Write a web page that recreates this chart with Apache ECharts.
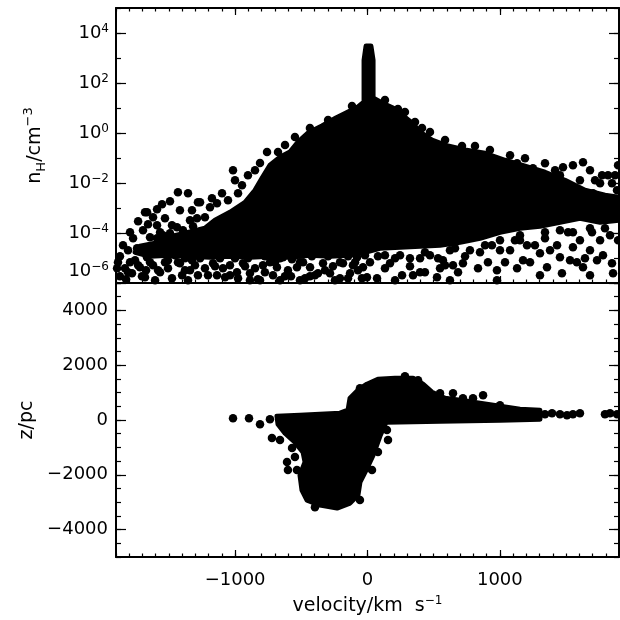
<!DOCTYPE html>
<html><head><meta charset="utf-8">
<script src="https://cdn.jsdelivr.net/npm/echarts@6/dist/echarts.min.js"></script>
<style>html,body{margin:0;padding:0;background:#fff}#c{width:620px;height:620px}</style>
</head><body><div id="c"></div>
<script>
// ---------- axis ranges and tick labels ----------
const xMin = -1900, xMax = 1900;
const xMajorTicks = [-1000, 0, 1000];
const logNMin = -6, logNMax = 5;            // log10(nH / cm^-3)
const logNMajorTicks = [-6, -4, -2, 0, 2, 4];
const zMin = -5000, zMax = 5000;
const zMajorTicks = [-4000, -2000, 0, 2000, 4000];

// ---------- top panel: density vs velocity ----------
// outline of the region that is solid black (overlapping points) [velocity, log10 nH]
const densityCoreOutline = [
  [-11,3.48],[26,3.48],[42,2.92],[42,1.40],[110,1.20],[193,1.00],[261,0.72],[336,0.40],[397,0.04],[487,-0.28],
  [608,-0.52],[737,-0.68],[888,-0.81],[1039,-1.09],[1190,-1.33],[1341,-1.57],[1492,-1.89],[1643,-2.29],[1794,-2.49],[1900,-2.57],
  [1900,-3.49],[1757,-3.57],[1605,-3.41],[1454,-3.57],[1303,-3.73],[1152,-3.81],[1001,-3.97],[850,-4.21],[699,-4.37],[548,-4.49],
  [397,-4.53],[246,-4.57],[94,-4.61],[-19,-4.77],[-132,-4.89],[-283,-4.93],[-435,-4.89],[-586,-4.97],[-737,-4.93],[-888,-4.97],
  [-1039,-4.93],[-1190,-4.97],[-1341,-4.93],[-1492,-4.89],[-1643,-4.93],[-1756,-4.77],[-1719,-4.53],[-1567,-4.37],[-1507,-4.17],
  [-1379,-4.01],[-1228,-3.81],[-1152,-3.49],[-1039,-3.17],
  [-925,-2.77],[-850,-2.29],[-797,-1.81],[-737,-1.29],[-661,-0.97],[-586,-0.76],
  [-525,-0.36],[-450,0.00],[-344,0.28],[-238,0.60],[-147,0.84],[-72,1.04],[-26,1.24],[-26,2.92]
];
// individual points outside the solid region [velocity, log10 nH]
const densityPoints = [
  // left wing, above the dense band
  [-1847,-4.49],[-1771,-4.21],[-1733,-3.53],[-1665,-3.17],[-1590,-3.05],[-1552,-2.85],[-1492,-2.73],[-1432,-2.37],[-1356,-2.41],
  [-1696,-3.89],[-1658,-3.65],[-1590,-3.69],[-1643,-4.17],[-1590,-4.21],[-1545,-4.09],[-1492,-4.01],[-1016,-1.49],[-903,-1.69],
  [-812,-1.20],[-1099,-2.41],[-1265,-2.77],[-1326,-3.09],[-1190,-2.97],[-1394,-3.89],[-1439,-4.21],[-676,-0.76],[-359,0.12],
  [-246,0.40],[230,0.96],[412,0.20],[419,-0.16],[812,-0.52],
  [-1681,-3.17],[-1417,-3.09],[-1281,-2.77],[-1175,-2.61],[-1137,-2.81],[-1567,-3.97],[-1439,-3.77],[-1318,-3.73],[-1288,-3.41],
  [-1228,-3.37],[-1341,-3.49],[-1530,-3.41],[-1620,-3.37],[-1477,-3.69],[-1794,-3.97],[-1741,-4.61],[-1643,-4.53],[-1567,-4.45],
  [-1054,-2.69],[-978,-2.41],[-948,-2.09],[-1001,-1.89],[-850,-1.49],[-759,-0.76],[-623,-0.48],[-548,-0.16],[-435,0.20],
  [-298,0.52],[-117,1.08],
  // right of the peak, along the upper edge
  [132,1.32],[283,0.84],[359,0.44],[472,0.04],[586,-0.28],[714,-0.52],[925,-0.68],[1077,-0.89],
  // low-density band, left half
  [-1892,-5.41],[-1832,-5.41],[-1756,-5.09],[-1719,-5.37],[-1666,-4.97],[-1620,-5.29],[-1545,-4.77],[-1507,-5.09],[-1454,-4.89],
  [-1417,-5.21],[-1364,-4.69],[-1326,-5.09],[-1281,-5.69],[-1213,-4.69],[-1167,-5.21],[-1137,-5.69],[-1076,-4.81],[-1039,-5.29],
  [-963,-4.69],[-941,-5.21],[-888,-5.61],[-835,-4.81],[-790,-5.29],[-737,-4.69],[-684,-5.37],[-638,-4.97],[-586,-4.57],
  [-533,-5.37],[-487,-4.81],[-434,-5.37],[-382,-4.69],[-336,-5.21],[-283,-5.61],[-230,-4.69],[-185,-5.21],[-132,-5.61],
  [-79,-4.97],[-34,-5.37],[-1870,-5.73],[-1779,-5.61],[-1681,-5.77],[-1567,-5.57],[-1477,-5.81],[-1379,-5.49],[-1228,-5.41],
  [-1076,-5.77],[-986,-5.57],[-828,-5.85],[-737,-5.17],[-624,-5.73],[-571,-5.05],[-472,-5.81],[-374,-5.61],[-208,-5.81],
  [-94,-5.17],[-1809,-4.69],
  [-1870,-4.93],[-1794,-5.17],[-1809,-5.57],[-1704,-5.73],[-1643,-5.17],[-1582,-5.49],[-1530,-5.17],[-1477,-4.77],[-1379,-5.01],
  [-1341,-5.49],[-1265,-5.01],[-1205,-5.69],[-1114,-5.01],[-1092,-5.41],[-1001,-5.01],[-978,-5.81],[-903,-5.01],[-850,-5.41],
  [-775,-4.93],[-714,-5.69],[-661,-5.01],[-601,-5.49],[-548,-4.89],[-487,-5.17],[-420,-4.93],[-397,-5.69],[-298,-4.93],
  [-261,-5.33],[-147,-4.93],[-110,-5.29],[-19,-4.89],[-42,-5.81],[-1356,-5.89],[-510,-5.89],[-812,-5.89],
  [-1885,-5.17],[-1824,-5.85],[-1733,-5.29],[-1673,-5.49],[-1605,-5.89],[-1507,-5.41],[-1432,-5.17],[-1401,-5.69],[-1303,-5.29],
  [-1152,-5.33],[-1039,-5.69],[-925,-5.33],[-888,-5.89],[-775,-5.57],[-699,-5.17],[-661,-5.89],[-578,-5.73],[-510,-5.17],
  [-435,-5.73],[-321,-5.49],[-246,-5.89],[-208,-5.17],[-147,-5.81],[-72,-5.49],[19,-5.17],
  // low-density band, right half
  [-4,-5.77],[72,-5.81],[170,-5.21],[261,-5.69],[321,-5.01],[344,-5.69],[434,-5.57],[472,-4.89],[525,-5.77],[570,-5.09],
  [623,-4.69],[684,-5.57],[721,-5.21],[774,-4.69],[835,-5.41],[910,-5.17],[978,-5.49],[1001,-4.69],[1130,-5.41],[1175,-5.09],
  [1205,-4.49],[1303,-4.81],[1356,-5.37],[1432,-4.49],[1454,-4.97],[1469,-5.61],[1530,-5.09],[1552,-4.57],[1605,-4.29],
  [1628,-5.37],[1681,-4.69],[1734,-5.09],[1855,-5.61],[1893,-4.29],[1454,-3.89],[1552,-3.97],[978,-5.89],[397,-5.57],
  [646,-5.29],[1847,-5.21],[1582,-5.17],[1152,-4.29],[888,-4.49],
  [661,-4.61],[737,-4.93],[850,-4.77],[940,-4.49],[1077,-4.69],[1114,-4.29],[1265,-4.49],[1341,-4.21],[1379,-4.69],
  [1228,-5.17],[1039,-5.17],[208,-5.01],[132,-5.41],[79,-4.93],[397,-5.01],[548,-5.41],[1696,-3.97],[1757,-4.29],
  [1779,-4.89],[1643,-5.01],[1515,-3.97],[1341,-3.97],[1152,-4.09],[1001,-4.29],
  [132,-4.89],[246,-4.89],[321,-5.33],[434,-4.77],[533,-5.01],[586,-5.29],[208,-5.89],[623,-5.89],[1303,-5.69],[1681,-5.69],
  // right wing, above the dense band
  [1341,-1.21],[1477,-1.37],[1552,-1.29],[1628,-1.17],[1772,-1.69],[1817,-1.69],[1870,-1.69],[1250,-1.41],[1130,-1.21],
  [1054,-1.21],[1757,-2.01],[1885,-2.29],[1704,-2.41],[1794,-3.81],[1681,-3.81],[1832,-4.09],
  [1190,-1.01],[1417,-1.49],[1681,-1.49],[1719,-1.89],[1847,-2.01],[1605,-1.89],[1454,-1.69],[1885,-2.69],[1893,-1.29]
];

// ---------- bottom panel: height vs velocity ----------
// outline of the solid black region [velocity, z]
const heightCoreOutline = [
  [-684,140],[-510,177],[-359,213],[-208,250],[-147,359],[-132,797],[-72,1088],[-4,1307],[79,1490],[208,1526],
  [344,1526],[419,1307],[487,1015],[586,797],[699,724],[850,615],[1001,505],[1152,396],[1303,359],[1303,31],
  [1001,-5],[548,-42],[140,-78],[94,-588],[42,-1281],[-11,-1828],[-57,-2266],[-72,-2740],[-132,-3032],[-230,-3214],
  [-359,-3105],[-457,-2923],[-495,-2558],[-510,-2011],[-472,-1537],[-487,-1172],[-548,-807],[-623,-479],[-676,-151]
];
// individual points outside the solid region [velocity, z]
const heightPoints = [
  [-1016,67],[-895,67],[-812,-151],[-737,31],[-722,-661],[-661,-734],[-608,-1536],[-601,-1828],[-533,-1828],[-548,-1354],
  [147,-369],[646,979],[721,797],[797,797],[873,906],[1001,542],
  [-57,1161],[283,1599],[382,1453],[548,979],
  [-570,-1026],[-525,-552],[-586,-297],[-638,-188],[-397,-3185],[-57,-2922],[34,-1828],[79,-1172],[155,-734],
  [1228,213],[1281,250],[1341,213],[1394,250],[1454,213],[1507,177],[1552,213],[1605,250],[1794,213],[1832,250],[1885,213]
];

// ---------- chart ----------
const FONT = 'DejaVu Sans';
const BLACK = '#000';
const minus = v => (v < 0 ? '\u2212' + (-v) : String(v));

function axisBase(extra) {
  return Object.assign({
    type: 'value',
    splitLine: { show: false },
    axisLine: { show: false, onZero: false, lineStyle: { color: BLACK, width: 2 } },
    axisLabel: { show: false },
    axisTick: { show: false }
  }, extra);
}
function tickStyle(len, custom) {
  const t = { show: true, inside: true, length: len, lineStyle: { color: BLACK, width: 1.2 } };
  if (custom) t.customValues = custom;
  return t;
}

const xAxes = [];
const yAxes = [];
[[0, 'bottom'], [0, 'top'], [1, 'bottom']].forEach(([g, pos]) => {
  const labelled = (g === 1);
  const major = axisBase({
    gridIndex: g, position: pos, min: xMin, max: xMax, interval: 100,
    axisLine: { show: true, onZero: false, lineStyle: { color: BLACK, width: 2 } },
    axisTick: tickStyle(7, xMajorTicks)
  });
  if (labelled) {
    major.axisLabel = { show: true, customValues: xMajorTicks, formatter: minus, color: BLACK,
      fontFamily: FONT, fontSize: 18, margin: 14 };
    major.name = '{t|velocity/km  s}{s|\u22121}';
    major.nameLocation = 'middle';
    major.nameGap = 38;
    major.nameTextStyle = { rich: {
      t: { fontFamily: FONT, fontSize: 19, color: BLACK, lineHeight: 22, verticalAlign: 'middle' },
      s: { fontFamily: FONT, fontSize: 12, color: BLACK, lineHeight: 12, verticalAlign: 'top' } } };
  }
  xAxes.push(major);
  xAxes.push(axisBase({ gridIndex: g, position: pos, min: xMin, max: xMax, interval: 100,
    axisTick: tickStyle(3.5) }));
});

const supRich = {
  b: { fontFamily: FONT, fontSize: 18, color: BLACK, lineHeight: 20, verticalAlign: 'middle' },
  s: { fontFamily: FONT, fontSize: 12, color: BLACK, lineHeight: 12, verticalAlign: 'top' },
  gap: { fontSize: 2, lineHeight: 24 }
};
['left', 'right'].forEach(pos => {
  const major = axisBase({
    gridIndex: 0, position: pos, min: logNMin, max: logNMax, interval: 1,
    axisLine: { show: true, onZero: false, lineStyle: { color: BLACK, width: 2 } },
    axisTick: tickStyle(10, logNMajorTicks)
  });
  if (pos === 'left') {
    major.axisLabel = { show: true, customValues: logNMajorTicks, margin: 7,
      formatter: v => (v === logNMin ? '{b|10}{s|' + minus(v) + '}\n{gap| }' : '{b|10}{s|' + minus(v) + '}'),
      rich: supRich };
    major.name = '{t|n}{sub|H}{t|/cm}{sup|\u22123}';
    major.nameLocation = 'middle';
    major.nameGap = 68;
    major.nameTextStyle = { rich: {
      t: { fontFamily: FONT, fontSize: 19, color: BLACK, lineHeight: 26, verticalAlign: 'middle' },
      sub: { fontFamily: FONT, fontSize: 13, color: BLACK, lineHeight: 13, verticalAlign: 'bottom' },
      sup: { fontFamily: FONT, fontSize: 13, color: BLACK, lineHeight: 13, verticalAlign: 'top' } } };
  }
  yAxes.push(major);
  yAxes.push(axisBase({ gridIndex: 0, position: pos, min: logNMin, max: logNMax, interval: 1,
    axisTick: tickStyle(5) }));
});
['left', 'right'].forEach(pos => {
  const major = axisBase({
    gridIndex: 1, position: pos, min: zMin, max: zMax, interval: 500,
    axisLine: { show: true, onZero: false, lineStyle: { color: BLACK, width: 2 } },
    axisTick: tickStyle(10, zMajorTicks)
  });
  if (pos === 'left') {
    major.axisLabel = { show: true, customValues: zMajorTicks, formatter: minus, color: BLACK,
      fontFamily: FONT, fontSize: 18, margin: 8 };
    major.name = 'z/pc';
    major.nameLocation = 'middle';
    major.nameGap = 70;
    major.nameTextStyle = { fontFamily: FONT, fontSize: 19, color: BLACK };
  }
  yAxes.push(major);
  yAxes.push(axisBase({ gridIndex: 1, position: pos, min: zMin, max: zMax, interval: 500,
    axisTick: tickStyle(5) }));
});

function polygonSeries(outline, xi, yi) {
  return {
    type: 'custom', xAxisIndex: xi, yAxisIndex: yi, silent: true, clip: true,
    data: [[0, 0]],
    renderItem: (params, api) => ({
      type: 'polygon',
      shape: { points: outline.map(p => api.coord(p)) },
      style: { fill: BLACK, stroke: BLACK, lineWidth: 5, lineJoin: 'round' }
    })
  };
}
function scatterSeries(points, xi, yi) {
  return { type: 'scatter', xAxisIndex: xi, yAxisIndex: yi, symbol: 'circle', symbolSize: 8.5,
    itemStyle: { color: BLACK, opacity: 1 }, silent: true, data: points };
}

const option = {
  animation: false,
  backgroundColor: '#fff',
  grid: [
    { left: 116, right: 1, top: 8, height: 275 },
    { left: 116, right: 1, top: 283, height: 274 }
  ],
  xAxis: xAxes,
  yAxis: yAxes,
  series: [
    polygonSeries(densityCoreOutline, 0, 0),
    scatterSeries(densityPoints, 0, 0),
    polygonSeries(heightCoreOutline, 4, 4),
    scatterSeries(heightPoints, 4, 4)
  ]
};
const chart = echarts.init(document.getElementById('c'));
chart.setOption(option);
</script>
</body></html>
